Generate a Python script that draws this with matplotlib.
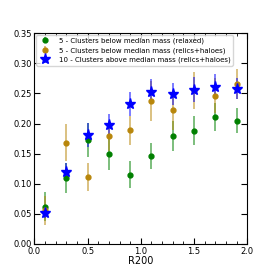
import numpy as np
import matplotlib
matplotlib.use("Agg")
import matplotlib.pyplot as plt
from matplotlib.ticker import MultipleLocator

r200 = [0.1, 0.3, 0.5, 0.7, 0.9, 1.1, 1.3, 1.5, 1.7, 1.9]

# 5 - clusters below median mass (relaxed)
relaxed = [0.062, 0.109, 0.173, 0.150, 0.115, 0.146, 0.179, 0.188, 0.211, 0.205]
relaxed_err = [0.024, 0.025, 0.028, 0.027, 0.022, 0.022, 0.025, 0.024, 0.023, 0.021]

# 5 - clusters below median mass (relics+haloes)
low_rh = [0.056, 0.168, 0.111, 0.180, 0.189, 0.238, 0.222, 0.255, 0.246, 0.265]
low_rh_err = [0.024, 0.031, 0.023, 0.025, 0.024, 0.033, 0.033, 0.031, 0.029, 0.025]

# 10 - clusters above median mass (relics+haloes)
high_rh = [0.051, 0.120, 0.181, 0.197, 0.233, 0.253, 0.249, 0.256, 0.261, 0.258]
high_rh_err = [0.008, 0.014, 0.020, 0.019, 0.020, 0.021, 0.019, 0.021, 0.021, 0.018]

labels = ["5 - Clusters below median mass (relaxed)",
          "5 - Clusters below median mass (relics+haloes)",
          "10 - Clusters above median mass (relics+haloes)"]

fig = plt.figure(figsize=(2.75, 2.75), dpi=100)
ax = fig.add_axes([0.125, 0.113, 0.774, 0.766])

ax.errorbar(r200, relaxed, yerr=relaxed_err, fmt='o', color='green', ms=3.5,
            elinewidth=1.2, ecolor=(0, 0.5, 0, 0.6), label=labels[0])
ax.errorbar(r200, low_rh, yerr=low_rh_err, fmt='o', color='darkgoldenrod', ms=3.5,
            elinewidth=1.2, ecolor=(0.72, 0.53, 0.04, 0.6), label=labels[1])
ax.errorbar(r200, high_rh, yerr=high_rh_err, fmt='*', color='blue', ms=8,
            elinewidth=1.2, ecolor=(0, 0, 1, 0.6), label=labels[2])

ax.set_xlim(0, 2.0)
ax.set_ylim(0, 0.35)
ax.xaxis.set_major_locator(MultipleLocator(0.5))
ax.xaxis.set_minor_locator(MultipleLocator(0.1))
ax.yaxis.set_major_locator(MultipleLocator(0.05))
ax.tick_params(which='both', direction='in', top=True, right=True, labelsize=6, pad=2)
ax.tick_params(which='major', length=4)
ax.tick_params(which='minor', length=2)
ax.set_xlabel("R200", fontsize=7, labelpad=0)

ax.legend(loc='upper left', fontsize=5.0, numpoints=1, handletextpad=0.9,
          borderpad=0.35, labelspacing=0.45, handlelength=2.0, borderaxespad=0.25)

fig.savefig("out.png", dpi=100)
